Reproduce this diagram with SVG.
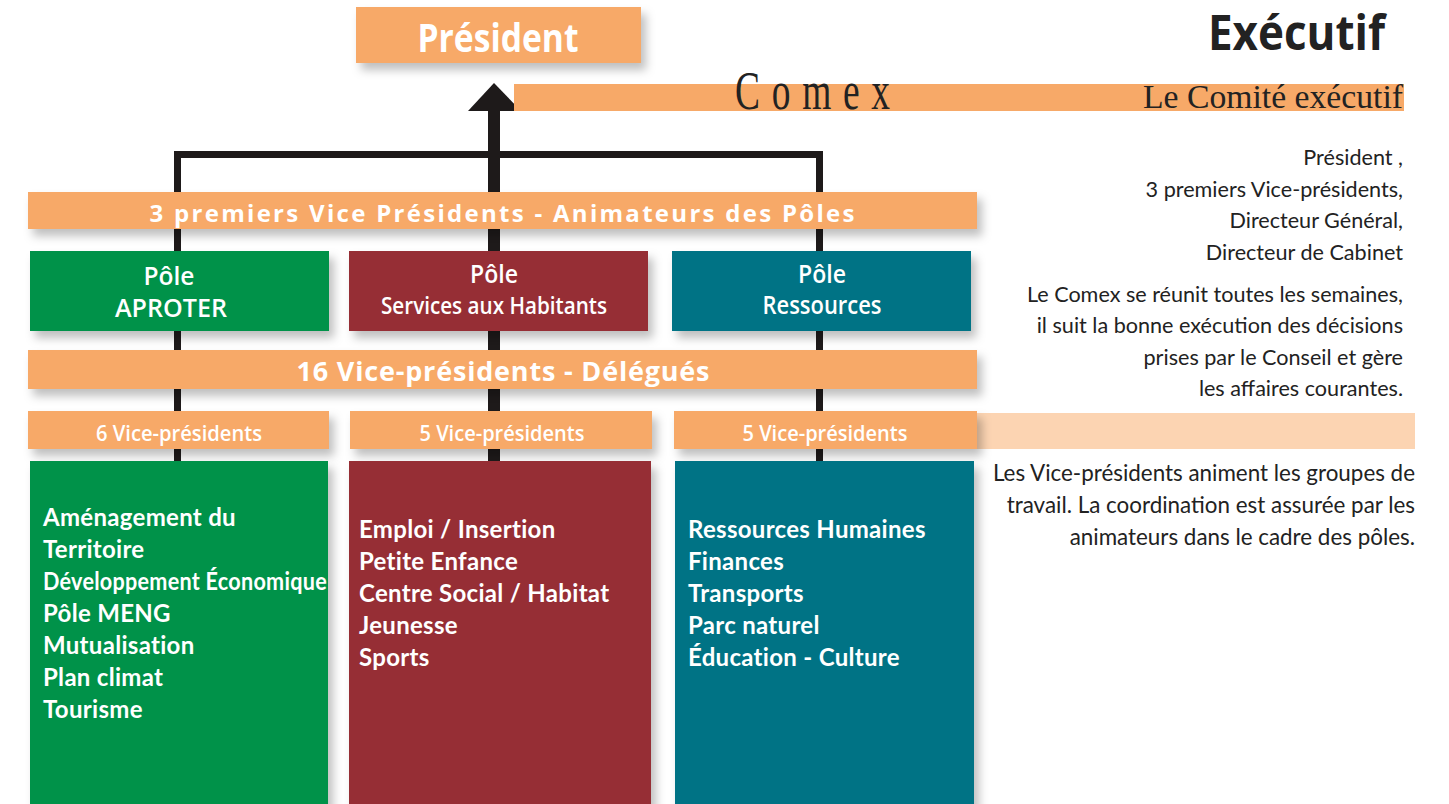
<svg xmlns="http://www.w3.org/2000/svg" width="1449" height="804" viewBox="0 0 1449 804">
<defs>
<filter id="sh" x="-10%" y="-30%" width="130%" height="180%">
<feDropShadow dx="5" dy="7" stdDeviation="5" flood-color="#000" flood-opacity="0.25"/>
</filter>
<style>
.or{fill:#f7a968}
.gr{fill:#00924a}
.mr{fill:#962d34}
.tl{fill:#007385}
.hd{font-family:"Open Sans","Liberation Sans",sans-serif;font-weight:700;fill:#fff;text-anchor:middle}
.pl{font-family:"Open Sans","Liberation Sans",sans-serif;font-weight:600;fill:#fff;text-anchor:middle}
.it{font-family:Lato,"Liberation Sans",sans-serif;font-weight:700;fill:#fff;font-size:24px;letter-spacing:0.3px}
.rt{font-family:Lato,"Liberation Sans",sans-serif;font-weight:400;fill:#222;font-size:21.6px;text-anchor:end}
.rb{font-size:22.4px}
.sr{font-family:"Liberation Serif",serif;fill:#222}
.ln{fill:#1e1a1a}
</style>
</defs>
<rect width="1449" height="804" fill="#fff"/>

<g id="connectors">
<rect class="ln" x="174" y="151" width="648" height="7"/>
<rect class="ln" x="174" y="151" width="7" height="311"/>
<rect class="ln" x="816" y="151" width="7" height="311"/>
<rect class="ln" x="488" y="108" width="12" height="354"/>
<polygon class="ln" points="494,83 468,111 521,111"/>
</g>

<g id="president">
<rect class="or" x="356" y="7" width="285" height="56" filter="url(#sh)"/>
<text class="hd" x="498" y="52" font-size="40" textLength="161" lengthAdjust="spacingAndGlyphs">Président</text>
</g>

<g id="executif">
<text x="1385" y="50" text-anchor="end" font-family="'Open Sans','Liberation Sans',sans-serif" font-weight="700" font-size="48" fill="#222" textLength="177" lengthAdjust="spacingAndGlyphs">Exécutif</text>
</g>

<g id="comex">
<rect class="or" x="514" y="84" width="890" height="27"/>
<text class="sr" transform="translate(735,109) scale(0.68,1)" font-size="55" textLength="228" lengthAdjust="spacing">Comex</text>
<text class="sr" x="1403" y="108" font-size="33" text-anchor="end" textLength="260" lengthAdjust="spacingAndGlyphs">Le Comité exécutif</text>
</g>

<g id="premiers-vp">
<rect class="or" x="28" y="192" width="949" height="37" filter="url(#sh)"/>
<text class="hd" x="502" y="222" font-size="24" textLength="705" lengthAdjust="spacing">3 premiers Vice Présidents - Animateurs des Pôles</text>
</g>

<g id="pole-aproter">
<rect class="gr" x="30" y="251" width="299" height="80" filter="url(#sh)"/>
<text class="pl" x="169" y="285" font-size="25" textLength="51" lengthAdjust="spacingAndGlyphs">Pôle</text>
<text class="pl" x="171" y="317" font-size="25" textLength="112" lengthAdjust="spacingAndGlyphs">APROTER</text>
</g>
<g id="pole-services">
<rect class="mr" x="349" y="251" width="299" height="80" filter="url(#sh)"/>
<text class="pl" x="494" y="283" font-size="25" textLength="48" lengthAdjust="spacingAndGlyphs">Pôle</text>
<text class="pl" x="494" y="314" font-size="23" textLength="226" lengthAdjust="spacingAndGlyphs">Services aux Habitants</text>
</g>
<g id="pole-ressources">
<rect class="tl" x="672" y="251" width="299" height="80" filter="url(#sh)"/>
<text class="pl" x="822" y="283" font-size="25" textLength="48" lengthAdjust="spacingAndGlyphs">Pôle</text>
<text class="pl" x="822" y="314" font-size="25" textLength="119" lengthAdjust="spacingAndGlyphs">Ressources</text>
</g>

<g id="vp-delegues">
<rect class="or" x="28" y="350" width="949" height="39" filter="url(#sh)"/>
<text class="hd" x="503" y="381" font-size="27" textLength="413" lengthAdjust="spacing">16  Vice-présidents - Délégués</text>
</g>

<g id="vp-6">
<rect class="or" x="28" y="411" width="301" height="38" filter="url(#sh)"/>
<text class="pl" x="179" y="441" font-size="22" textLength="166" lengthAdjust="spacingAndGlyphs">6 Vice-présidents</text>
</g>
<g id="vp-5a">
<rect class="or" x="350" y="411" width="302" height="38" filter="url(#sh)"/>
<text class="pl" x="502" y="441" font-size="22" textLength="165" lengthAdjust="spacingAndGlyphs">5 Vice-présidents</text>
</g>
<g id="vp-5b">
<rect fill="#fcd4b2" x="977" y="413" width="438" height="36"/>
<rect class="or" x="674" y="411" width="303" height="38" filter="url(#sh)"/>
<text class="pl" x="825" y="441" font-size="22" textLength="165" lengthAdjust="spacingAndGlyphs">5 Vice-présidents</text>
</g>

<g id="list-aproter">
<rect class="gr" x="30" y="461" width="298" height="350" filter="url(#sh)"/>
<text class="it" x="43" y="526">Aménagement du</text>
<text class="it" x="43" y="558">Territoire</text>
<text class="it" x="43" y="590" textLength="284" lengthAdjust="spacingAndGlyphs">Développement Économique</text>
<text class="it" x="43" y="622">Pôle MENG</text>
<text class="it" x="43" y="654">Mutualisation</text>
<text class="it" x="43" y="686">Plan climat</text>
<text class="it" x="43" y="718">Tourisme</text>
</g>
<g id="list-services">
<rect class="mr" x="349" y="461" width="302" height="350" filter="url(#sh)"/>
<text class="it" x="359" y="538">Emploi / Insertion</text>
<text class="it" x="359" y="570">Petite Enfance</text>
<text class="it" x="359" y="602">Centre Social / Habitat</text>
<text class="it" x="359" y="634">Jeunesse</text>
<text class="it" x="359" y="666">Sports</text>
</g>
<g id="list-ressources">
<rect class="tl" x="675" y="461" width="299" height="350" filter="url(#sh)"/>
<text class="it" x="688" y="538">Ressources Humaines</text>
<text class="it" x="688" y="570">Finances</text>
<text class="it" x="688" y="602">Transports</text>
<text class="it" x="688" y="634">Parc naturel</text>
<text class="it" x="688" y="666">Éducation - Culture</text>
</g>

<g id="notes">
<text class="rt" x="1403" y="165">Président ,</text>
<text class="rt" x="1403" y="197">3 premiers Vice-présidents,</text>
<text class="rt" x="1403" y="228">Directeur Général,</text>
<text class="rt" x="1403" y="260">Directeur de Cabinet</text>
<text class="rt" x="1403" y="302">Le Comex se réunit toutes les semaines,</text>
<text class="rt" x="1403" y="333">il suit la bonne exécution des décisions</text>
<text class="rt" x="1403" y="365">prises par le Conseil et gère</text>
<text class="rt" x="1403" y="396">les affaires courantes.</text>
<text class="rt rb" x="1415" y="481">Les Vice-présidents animent les groupes de</text>
<text class="rt rb" x="1415" y="513">travail. La coordination est assurée par les</text>
<text class="rt rb" x="1415" y="545">animateurs dans le cadre des pôles.</text>
</g>
</svg>
